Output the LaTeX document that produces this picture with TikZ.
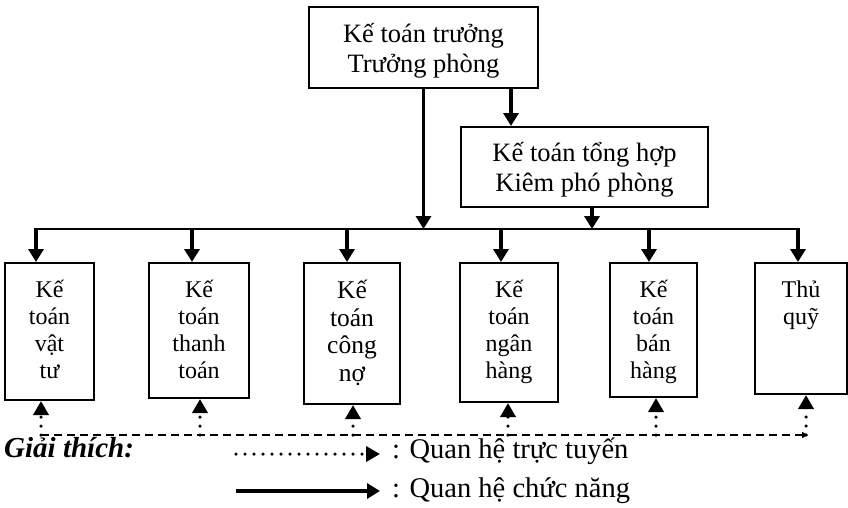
\documentclass[tikz,border=0pt]{standalone}
\usepackage{fontspec}
\setmainfont{Liberation Serif}
\usetikzlibrary{arrows.meta,calc,positioning}
\tikzset{
  ktbox/.style={draw, line width=2pt, align=center, inner sep=0pt, text depth=-3pt, font=\fontsize{26.5}{30}\selectfont},
  ktleaf/.style={draw, line width=2pt, anchor=north west, inner sep=0pt},
  kttext/.style={align=center, inner sep=0pt, anchor=north, font=\fontsize{24}{27}\selectfont},
  ktlegend/.style={anchor=base west, inner sep=0pt, font=\fontsize{28.5}{32}\selectfont},
  ktarr/.style={-{Triangle[length=13pt,width=15pt]}, line width=3.5pt},
  ktbus/.style={line width=2pt},
  ktdot/.style={-{Triangle[length=14pt,width=15pt]}, line width=3.5pt, line cap=round, dash pattern=on 0pt off 9pt},
  ktdash/.style={-{Triangle[length=6pt,width=6pt]}, line width=2pt, dash pattern=on 8pt off 5pt}
}

\begin{document}
\begin{tikzpicture}[x=1pt, y=-1pt]
  \useasboundingbox (0,0) rectangle (848,507);
  % upper boxes
  \node[ktbox, minimum width=229pt, minimum height=81pt] (truong) at (423.5,47.5) {Kế toán trưởng\\Trưởng phòng};
  \node[ktbox, minimum width=247pt, minimum height=80pt] (tonghop) at (584.5,167) {Kế toán tổng hợp\\Kiêm phó phòng};
  % lower boxes
  \node[ktleaf, minimum width=89pt, minimum height=137pt] (vattu) at (4,262) {};
  \node[ktleaf, minimum width=100pt, minimum height=135pt] (thanhtoan) at (148,262) {};
  \node[ktleaf, minimum width=96pt, minimum height=141pt] (congno) at (303,262) {};
  \node[ktleaf, minimum width=98pt, minimum height=139pt] (nganhang) at (459,262) {};
  \node[ktleaf, minimum width=87pt, minimum height=134pt] (banhang) at (609,262) {};
  \node[ktleaf, minimum width=92pt, minimum height=131pt] (thuquy) at (754,262) {};
  \node[kttext] (vattu-t) at ([yshift=-18pt]vattu.north) {Kế\\toán\\vật\\tư};
  \node[kttext] (thanhtoan-t) at ([yshift=-18pt]thanhtoan.north) {Kế\\toán\\thanh\\toán};
  \node[kttext, font=\fontsize{25.5}{27.5}\selectfont] (congno-t) at ([yshift=-18pt]congno.north) {Kế\\toán\\công\\nợ};
  \node[kttext] (nganhang-t) at ([yshift=-18pt]nganhang.north) {Kế\\toán\\ngân\\hàng};
  \node[kttext] (banhang-t) at ([yshift=-18pt]banhang.north) {Kế\\toán\\bán\\hàng};
  \node[kttext] (thuquy-t) at ([yshift=-18pt]thuquy.north) {\vphantom{Kế}Thủ\\quỹ};
  % bus and connectors
  \coordinate (bus) at (0,229);
  \coordinate (dl) at (0,435);
  \draw[ktbus] ($(vattu.north |- bus)+(-13.5,0)$) -- ($(thuquy.north |- bus)+(-3,0)$);
  \draw[ktarr] (truong.south) -- (truong.south |- bus);
  \draw[ktarr] ($(truong.south)+(87.5,0)$) -- ($(truong.south |- tonghop.north)+(87.5,0)$);
  \draw[ktarr] ($(tonghop.south)+(7.5,0)$) -- ($(tonghop.south |- bus)+(7.5,0)$);
  \foreach \n/\dt/\db in {vattu/-13.5/-8.5, thanhtoan/-7/1, congno/-5/1, nganhang/-8/-1, banhang/-4.5/2.5, thuquy/-3/5} {
    \draw[ktarr] ($(\n.north |- bus)+(\dt,-1)$) -- ($(\n.north)+(\dt,0)$);
    \draw[ktdot] ($(\n.south |- dl)+(\db,0)$) -- ($(\n.south)+(\db,0)$);
  }
  \draw[ktdash] ($(vattu.south |- dl)+(-8.5,0)$) -- ($(thuquy.south |- dl)+(7,0)$);
  % legend
  \node[ktlegend, font=\fontsize{29}{32}\selectfont\bfseries\itshape] (giai) at (4,457) {Giải thích:};
  \coordinate (lg1a) at (236,454);
  \coordinate (lg1b) at (380,454);
  \draw[ktdot] (lg1a) -- (lg1b);
  \node[ktlegend] (lg1) at (392,458) {: Quan hệ trực tuyến};
  \coordinate (lg2a) at (236,491);
  \coordinate (lg2b) at (380,491);
  \draw[ktarr] (lg2a) -- (lg2b);
  \node[ktlegend] (lg2) at (392,497) {: Quan hệ chức năng};
\end{tikzpicture}
\end{document}
